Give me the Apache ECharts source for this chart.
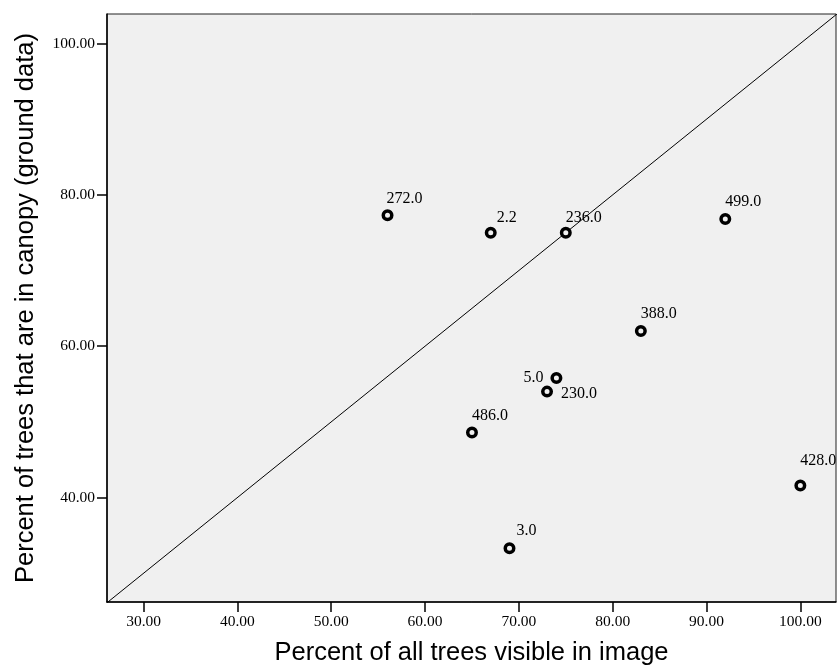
<!DOCTYPE html>
<html>
<head>
<meta charset="utf-8">
<script src="https://cdn.jsdelivr.net/npm/echarts@6/dist/echarts.min.js"></script>
<style>
html,body{margin:0;padding:0;background:#fff;}
#chart{width:838px;height:671px;}
</style>
</head>
<body>
<div id="chart"></div>
<script>
// ---- data ----
const caseLabels = ['272.0', '2.2', '236.0', '499.0', '388.0', '5.0', '230.0', '486.0', '428.0', '3.0'];
const xValues = [56, 67, 75, 92, 83, 74, 73, 65, 100, 69];
const yValues = [77.3, 75.0, 75.0, 76.8, 62.0, 55.8, 54.0, 48.6, 41.6, 33.3];
const xTicks = [30, 40, 50, 60, 70, 80, 90, 100];
const yTicks = [40, 60, 80, 100];
const refLine = [26, 104];
const xTitle = 'Percent of all trees visible in image';
const yTitle = 'Percent of trees that are in canopy (ground data)';

// ---- label placement (style) ----
const labelPlace = {
  '272.0': {align: 'left', offset: [-1, -17]},
  '2.2':   {align: 'left', offset: [6, -15]},
  '236.0': {align: 'left', offset: [0, -15]},
  '499.0': {align: 'left', offset: [0, -17]},
  '388.0': {align: 'left', offset: [0, -17]},
  '5.0':   {align: 'right', offset: [-13, 0]},
  '230.0': {align: 'left', offset: [14, 2]},
  '486.0': {align: 'left', offset: [0, -17]},
  '428.0': {align: 'left', offset: [0, -25]},
  '3.0':   {align: 'left', offset: [7, -17]}
};

const points = caseLabels.map((lab, i) => {
  const p = labelPlace[lab];
  return {
    value: [xValues[i], yValues[i]],
    name: lab,
    label: {
      show: true,
      formatter: lab,
      position: 'inside',
      align: p.align,
      verticalAlign: 'middle',
      offset: p.offset
    }
  };
});

const serif = 'Liberation Serif';
const sans = 'Liberation Sans';

const chart = echarts.init(document.getElementById('chart'), null, {renderer: 'canvas'});
chart.setOption({
  animation: false,
  backgroundColor: '#ffffff',
  grid: {
    left: 107, top: 14, right: 2, bottom: 68,
    show: true, backgroundColor: '#f0f0f0', borderColor: '#222', borderWidth: 1
  },
  xAxis: {
    type: 'value', min: 26.1, max: 103.8,
    name: xTitle, nameLocation: 'middle', nameGap: 38,
    nameTextStyle: {fontFamily: sans, fontSize: 25.5, color: '#000'},
    axisLine: {show: true, onZero: false, lineStyle: {color: '#000', width: 1.5}},
    axisTick: {show: true, length: 10, lineStyle: {color: '#000', width: 1.5}, customValues: xTicks},
    axisLabel: {
      customValues: xTicks, margin: 12,
      fontFamily: serif, fontSize: 15.5, color: '#000',
      formatter: v => v.toFixed(2)
    },
    splitLine: {show: false}
  },
  yAxis: {
    type: 'value', min: 26.2, max: 103.9,
    name: yTitle, nameLocation: 'middle', nameGap: 68, nameRotate: 90,
    nameTextStyle: {fontFamily: sans, fontSize: 25.5, color: '#000'},
    axisLine: {show: true, onZero: false, lineStyle: {color: '#000', width: 1.5}},
    axisTick: {show: true, length: 10, lineStyle: {color: '#000', width: 1.5}, customValues: yTicks},
    axisLabel: {
      customValues: yTicks, margin: 12,
      fontFamily: serif, fontSize: 15.5, color: '#000',
      formatter: v => v.toFixed(2)
    },
    splitLine: {show: false}
  },
  series: [
    {
      type: 'line',
      data: [[refLine[0], refLine[0]], [refLine[1], refLine[1]]],
      showSymbol: false,
      clip: true,
      lineStyle: {color: '#000', width: 1},
      z: 2,
      silent: true
    },
    {
      type: 'scatter',
      data: points,
      symbol: 'circle',
      symbolSize: 8.5,
      itemStyle: {color: '#f0f0f0', borderColor: '#000', borderWidth: 3.5, opacity: 1},
      label: {fontFamily: serif, fontSize: 16, color: '#000'},
      z: 3
    }
  ]
});
</script>
</body>
</html>
